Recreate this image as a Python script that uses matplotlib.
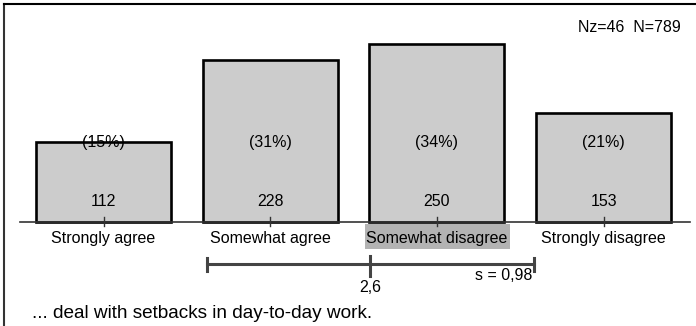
import matplotlib.pyplot as plt
import matplotlib.transforms as mtransforms
from matplotlib.lines import Line2D
from matplotlib.patches import Rectangle

plt.rcParams['font.family'] = ['Liberation Sans', 'DejaVu Sans']

# data
categories = ["Strongly agree", "Somewhat agree", "Somewhat disagree", "Strongly disagree"]
counts = [112, 228, 250, 153]
percents = ["(15%)", "(31%)", "(34%)", "(21%)"]
mean_value = 2.6
std_value = 0.98
n_missing = 46
n_total = 789
question = "... deal with setbacks in day-to-day work."
highlight_idx = 2

W, H = 696, 326
fig = plt.figure(figsize=(W / 100, H / 100), dpi=100)
ax = fig.add_axes([0, 0, 1, 1])
ax.set_axis_off()

# pixel mapping: category 1 at x=103.5px, 166.7px per category; baseline y=222px, 0.712px per count
px_x = 166.7
px_y = 0.712
x0 = 1 - 103.5 / px_x
ax.set_xlim(x0, x0 + W / px_x)
base = H - 222
ax.set_ylim(-base / px_y, (H - base) / px_y)

xs = list(range(1, len(categories) + 1))
ax.bar(xs, counts, width=0.81, color="#cccccc", edgecolor="black", linewidth=1.9, zorder=2)

# axis line and ticks
ax.axhline(0, xmin=20 / W, xmax=690 / W, color="#333333", linewidth=1.2, zorder=3)
trans = mtransforms.blended_transform_factory(ax.transData, ax.transAxes)


def fy(py):
    # pixel row from top -> axes fraction
    return 1 - py / H


fs = 11.5
for x, c, p, lab in zip(xs, counts, percents, categories):
    ax.plot([x, x], [fy(217), fy(226)], transform=trans, color="#333333", lw=1.0, zorder=4)
    ax.text(x, fy(202), str(c), transform=trans, ha="center", va="center", fontsize=fs, zorder=5)
    ax.text(x, fy(143), p, transform=trans, ha="center", va="center", fontsize=fs, zorder=5)
    ax.text(x, fy(239), lab, transform=trans, ha="center", va="center", fontsize=fs, zorder=5)

# highlight for the category with the mean
hx = xs[highlight_idx]
ax.add_patch(Rectangle((hx - 0.43, fy(249)), 0.87, fy(224) - fy(249), transform=trans,
                       facecolor="#b3b3b3", edgecolor="none", zorder=1))

# mean +/- s line
lo, hi = mean_value - std_value, mean_value + std_value
ax.plot([lo, hi], [fy(264), fy(264)], transform=trans, color="#444444", lw=2.2, zorder=3)
for xe in (lo, hi):
    ax.plot([xe, xe], [fy(258), fy(271)], transform=trans, color="#444444", lw=2.2, zorder=3)
ax.plot([mean_value, mean_value], [fy(256), fy(276)], transform=trans, color="#444444", lw=2.2, zorder=3)
ax.text(mean_value, fy(287), f"{mean_value:.1f}".replace(".", ","), transform=trans,
        ha="center", va="center", fontsize=fs)
ax.text(hi - 0.01, fy(276), "s = " + f"{std_value:.2f}".replace(".", ","), transform=trans,
        ha="right", va="center", fontsize=fs)

ax.text(681 / W, fy(28), f"Nz={n_missing}  N={n_total}", transform=ax.transAxes,
        ha="right", va="center", fontsize=fs)
ax.text(32 / W, fy(313), question, transform=ax.transAxes,
        ha="left", va="center", fontsize=13.7)

# frame lines
fig.add_artist(Line2D([4 / W, 4 / W], [0, 1 - 4 / H], color="#333333", lw=1.5))
fig.add_artist(Line2D([4 / W, 1], [1 - 4 / H, 1 - 4 / H], color="black", lw=1.5))

fig.savefig("out.png", dpi=100)
